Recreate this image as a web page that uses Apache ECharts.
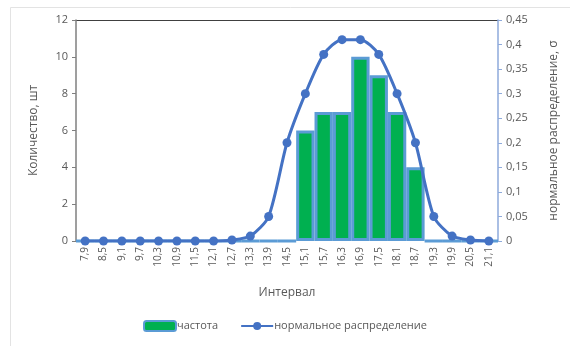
<!DOCTYPE html>
<html>
<head>
<meta charset="utf-8">
<script src="https://cdn.jsdelivr.net/npm/echarts@6/dist/echarts.min.js"></script>
<style>
  html, body { margin: 0; padding: 0; background: #fff; }
  #chart { width: 570px; height: 346px; }
</style>
</head>
<body>
<div id="chart"></div>
<script>
// Interval midpoints
const categories = ['7,9','8,5','9,1','9,7','10,3','10,9','11,5','12,1','12,7','13,3','13,9','14,5',
  '15,1','15,7','16,3','16,9','17,5','18,1','18,7','19,3','19,9','20,5','21,1'];
// Observed frequency per interval
const frequency = [0,0,0,0,0,0,0,0,0,0,0,0, 6,7,7,10,9,7,4, 0,0,0,0];
// Normal distribution density
const normalDist = [0,0,0,0,0,0,0,0,0.002,0.01,0.05,0.2, 0.3,0.38,0.41,0.41,0.38,0.3,0.2, 0.05,0.01,0.002,0];
// Right axis tick labels
const rightTicks = ['0','0,05','0,1','0,15','0,2','0,25','0,3','0,35','0,4','0,45'];

const FONT = '"Open Sans", "Noto Sans", sans-serif';
const GREY = '#595959';

const chart = echarts.init(document.getElementById('chart'), null, { renderer: 'canvas' });
chart.setOption({
  animation: false,
  textStyle: { fontFamily: FONT },
  graphic: [{
    // light outer frame of the chart area
    type: 'rect', left: 8, top: 5,
    shape: { width: 600, height: 400 },
    style: { fill: 'none', stroke: '#e3e3e3', lineWidth: 1 },
    silent: true, z: -1
  }, {
    // line across the top of the plot area
    type: 'line', silent: true,
    shape: { x1: 76, y1: 20.5, x2: 498, y2: 20.5 },
    style: { stroke: '#404040', lineWidth: 1.2 }
  }],
  grid: { left: 76, right: 72, top: 20, bottom: 105, show: false },
  legend: {
    bottom: 9, left: 'center',
    itemGap: 22, itemWidth: 32, itemHeight: 10,
    textStyle: { fontFamily: FONT, fontSize: 11, color: GREY, padding: [0, 0, 0, -4] },
    data: [
      { name: 'частота', icon: 'roundRect' },
      { name: 'нормальное распределение' }
    ]
  },
  xAxis: {
    type: 'category', data: categories, boundaryGap: true,
    name: 'Интервал', nameLocation: 'middle', nameGap: 46,
    nameTextStyle: { fontFamily: FONT, fontSize: 12, color: GREY },
    axisLine: { show: false },
    axisTick: { show: false },
    axisLabel: { rotate: 90, fontSize: 10, color: GREY, fontFamily: FONT, margin: 6 }
  },
  yAxis: [{
    type: 'value', min: 0, max: 12, interval: 2,
    name: 'Количество, шт', nameLocation: 'middle', nameGap: 36, nameRotate: 90,
    nameTextStyle: { fontFamily: FONT, fontSize: 12, color: GREY },
    axisLine: { show: true, lineStyle: { color: '#7f7f7f', width: 1.5 } },
    axisTick: { show: true, length: 4, lineStyle: { color: '#7f7f7f' } },
    axisLabel: { fontSize: 11, color: GREY, fontFamily: FONT, margin: 8 },
    splitLine: { show: false }
  }, {
    type: 'value', min: 0, max: 0.45, interval: 0.05,
    name: 'нормальное распределение, σ', nameLocation: 'middle', nameGap: 50, nameRotate: 90,
    nameTextStyle: { fontFamily: FONT, fontSize: 12, color: GREY },
    axisLine: { show: true, lineStyle: { color: '#8eaadb', width: 1.5 } },
    axisTick: { show: true, length: 4, lineStyle: { color: '#8eaadb' } },
    axisLabel: {
      fontSize: 11, color: GREY, fontFamily: FONT, margin: 8,
      formatter: (v) => rightTicks[Math.round(v / 0.05)]
    },
    splitLine: { show: false }
  }],
  series: [{
    name: 'частота', type: 'bar', yAxisIndex: 0,
    data: frequency, barCategoryGap: '0%',
    itemStyle: { color: '#00b050', borderColor: '#5b9bd5', borderWidth: 3 }
  }, {
    name: 'нормальное распределение', type: 'line', yAxisIndex: 1,
    data: normalDist, smooth: 0.25,
    symbol: 'circle', symbolSize: 9,
    lineStyle: { color: '#4472c4', width: 3 },
    itemStyle: { color: '#4472c4' }
  }]
});
</script>
</body>
</html>
